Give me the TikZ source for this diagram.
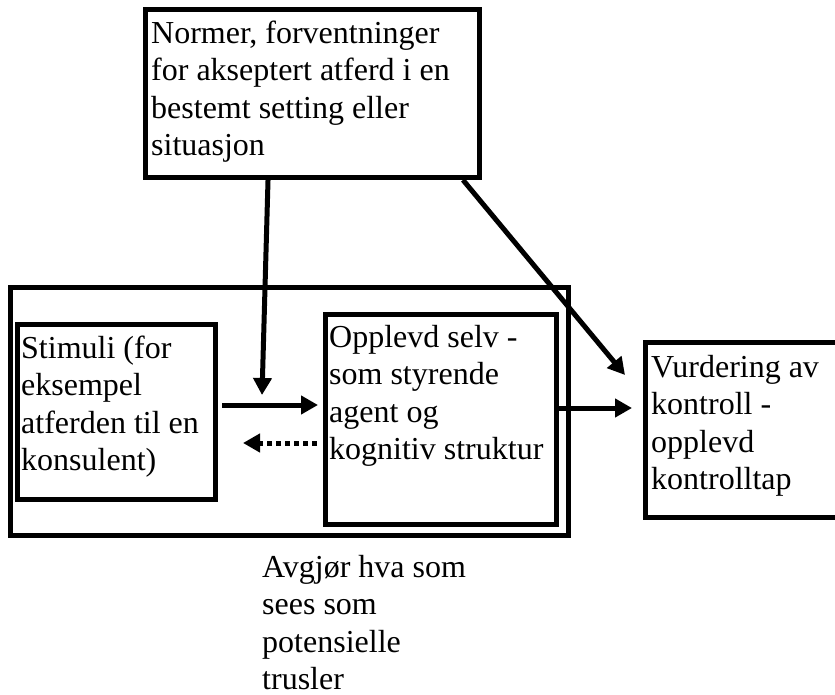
\documentclass[tikz,border=0pt]{standalone}
\usepackage{fontspec}
\setmainfont{Liberation Serif}
\usetikzlibrary{arrows.meta,calc}
\newcommand\firstln{\rule{0pt}{26.25pt}}
\begin{document}
\begin{tikzpicture}[x=1pt,y=-1pt,
  box/.style={draw,line width=5pt,rectangle,inner sep=0pt,outer sep=0pt},
  txt/.style={anchor=north west,inner sep=0pt,align=left,font=\fontsize{32}{37.5}\selectfont},
  arr/.style={line width=5pt,-{Triangle[length=17pt,width=18pt]}},
  dotarr/.style={arr,dash pattern=on 5pt off 4pt}]
\useasboundingbox (0,0) rectangle (835,695);
\clip (0,0) rectangle (835,695);

% boxes
\node[box,minimum width=334pt,minimum height=168pt] (norm) at (312.5,93.5) {};
\node[box,minimum width=558pt,minimum height=247.5pt] (outer) at (289.5,411.25) {};
\node[box,minimum width=198pt,minimum height=175pt] (stim) at (116.5,412) {};
\node[box,minimum width=230.5pt,minimum height=210pt] (self) at (440.75,419.5) {};
\node[box,minimum width=204.5pt,minimum height=175pt] (vurd) at (747.75,430) {};

% texts
\node[txt] (tnorm) at (151,16.75) {\firstln Normer, forventninger\\for akseptert atferd i en\\bestemt setting eller\\situasjon};
\node[txt] (tstim) at (21,331.75) {\firstln Stimuli (for\\eksempel\\atferden til en\\konsulent)};
\node[txt] (tself) at (329,320.75) {\firstln Opplevd selv -\\som styrende\\agent og\\kognitiv struktur};
\node[txt] (tvurd) at (651,350.75) {\firstln Vurdering av\\kontroll -\\opplevd\\kontrolltap};
\node[txt] (tavg) at (262,551) {\firstln Avgjør hva som\\sees som\\potensielle\\trusler};

% arrow tips
\coordinate (tipA) at (262,395);
\coordinate (tipB) at (625,375);

% connectors
\draw[arr] ($(norm.south west)!0.3668!(norm.south east)+(0,2.5)$) -- (tipA);
\draw[arr] ($(norm.south west)!0.9506!(norm.south east)+(0,2.5)$) -- (tipB);
\draw[arr] ([shift={(6.5,-7)}]stim.east) -- ([shift={(-7.5,-14.5)}]self.west);
\draw[dotarr] ([shift={(-8.5,23.5)}]self.west) -- ([shift={(27.5,31)}]stim.east);
\draw[arr] ([shift={(0,-11.5)}]self.east) -- ([shift={(-13.5,-22)}]vurd.west);
\end{tikzpicture}
\end{document}
